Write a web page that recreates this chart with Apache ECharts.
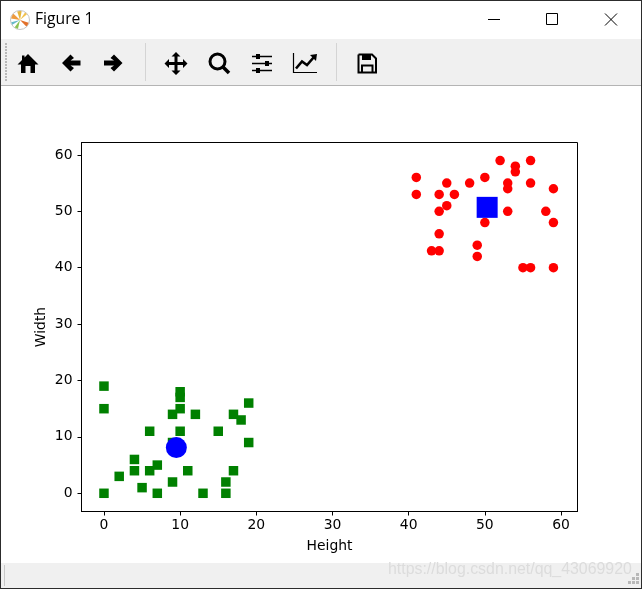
<!DOCTYPE html>
<html>
<head>
<meta charset="utf-8">
<title>Figure 1</title>
<style>
  html, body { margin: 0; padding: 0; background: #fff; }
  #main { width: 642px; height: 589px; }
</style>
<script src="https://cdn.jsdelivr.net/npm/echarts@6/dist/echarts.min.js"></script>
</head>
<body>
<div id="main"></div>
<script>
// values
var redPoints = [
  [41, 56], [41, 53], [44, 53], [45, 55], [46, 53], [48, 55], [50, 56], [52, 59],
  [54, 58], [54, 57], [56, 59], [53, 55], [53, 54], [56, 55], [59, 54], [45, 51],
  [44, 50], [53, 50], [58, 50], [50, 48], [59, 48], [44, 46], [43, 43], [44, 43],
  [49, 44], [49, 42], [55, 40], [56, 40], [59, 40]
];
var greenPoints = [
  [0, 19], [0, 15], [10, 18], [10, 17], [10, 15], [9, 14], [12, 14], [19, 16],
  [17, 14], [18, 13], [6, 11], [10, 11], [15, 11], [19, 9], [9, 9], [4, 6],
  [4, 4], [6, 4], [7, 5], [11, 4], [17, 4], [2, 3], [5, 1], [9, 2], [16, 2],
  [0, 0], [7, 0], [13, 0], [16, 0]
];
var blueSquare = [[50.3, 50.7]];
var blueCircle = [[9.5, 8.1]];
var xTicks = [0, 10, 20, 30, 40, 50, 60];
var yTicks = [0, 10, 20, 30, 40, 50, 60];

var chart = echarts.init(document.getElementById('main'));

function valueAxis(name, ticks, min, max, gap, labelMargin) {
  return {
    type: 'value',
    name: name,
    nameLocation: 'middle',
    nameGap: gap,
    nameMoveOverlap: false,
    nameTextStyle: { color: '#000', fontSize: 13.9, fontFamily: 'DejaVu Sans' },
    min: min,
    max: max,
    splitLine: { show: false },
    axisLine: { show: true, onZero: false, lineStyle: { color: '#000', width: 1 } },
    axisTick: { show: true, length: 4, customValues: ticks, lineStyle: { color: '#000', width: 1 } },
    axisLabel: { customValues: ticks, color: '#000', fontSize: 13.9, fontFamily: 'DejaVu Sans', margin: labelMargin }
  };
}

function scatter(data, symbol, size, color) {
  return {
    type: 'scatter',
    data: data,
    symbol: symbol,
    symbolSize: size,
    itemStyle: { color: color, opacity: 1 },
    silent: true
  };
}

// window frame and toolbar around the plot
function rect(x, y, w, h, fill) {
  return { type: 'rect', silent: true, shape: { x: x, y: y, width: w, height: h }, style: { fill: fill } };
}
function solid(points) {
  return { type: 'polygon', silent: true, shape: { points: points }, style: { fill: '#000' } };
}
function stroke(points, width) {
  return { type: 'polyline', silent: true, shape: { points: points }, style: { fill: 'none', stroke: '#000', lineWidth: width } };
}
function wedge(a, b, col) {
  return { type: 'sector', silent: true, shape: { cx: 20, cy: 20, r: 9, r0: 0, startAngle: a, endAngle: b }, style: { fill: col } };
}

var chrome = [
  rect(0, 39, 642, 46, '#f0f0f0'),
  rect(0, 85, 642, 1, '#b4b4b4'),
  rect(0, 563, 642, 25, '#f0f0f0'),
  rect(4, 565, 1, 21, '#c8c8c8'),
  rect(145, 43, 1, 38, '#d4d4d4'),
  rect(336, 43, 1, 38, '#d4d4d4'),
  // logo
  { type: 'circle', silent: true, shape: { cx: 20, cy: 20, r: 9.5 }, style: { fill: '#fff', stroke: '#c4c4c4', lineWidth: 1 } },
  wedge(3.3, 3.9, '#ee9a3e'),
  wedge(4.4, 4.9, '#e3b53d'),
  wedge(5.3, 5.6, '#f2c14e'),
  wedge(0.3, 0.8, '#e2702a'),
  wedge(1.8, 2.2, '#8cc152'),
  wedge(2.6, 2.9, '#66b8c9'),
  { type: 'text', silent: true, style: { x: 35, y: 20, text: 'Figure 1', fill: '#000', font: '15.7px "Open Sans"', textVerticalAlign: 'middle' } },
  // window buttons
  rect(488, 19, 12, 1, '#000'),
  { type: 'rect', silent: true, shape: { x: 546.5, y: 13.5, width: 11, height: 11 }, style: { fill: 'none', stroke: '#000', lineWidth: 1 } },
  stroke([[605, 13.5], [617, 25.5]], 1),
  stroke([[617, 13.5], [605, 25.5]], 1),
  // home
  solid([[28, 54], [38.5, 64.5], [35, 64.5], [35, 73], [30.5, 73], [30.5, 66], [25.5, 66], [25.5, 73], [21, 73], [21, 64.5], [17.5, 64.5], [22, 60], [22, 55.5], [24.5, 55.5], [24.5, 57.5]]),
  // back
  solid([[62, 63], [70.5, 54.5], [74, 58], [70.5, 60.5], [80.5, 60.5], [80.5, 65.5], [70.5, 65.5], [74, 68], [70.5, 71.5]]),
  // forward
  solid([[122.5, 63], [114, 54.5], [110.5, 58], [114, 60.5], [104, 60.5], [104, 65.5], [114, 65.5], [110.5, 68], [114, 71.5]]),
  // move
  solid([[176, 52], [180.5, 56.5], [177.5, 56.5], [177.5, 62], [183, 62], [183, 59], [187.5, 63.5], [183, 68], [183, 65], [177.5, 65], [177.5, 70.5], [180.5, 70.5], [176, 75], [171.5, 70.5], [174.5, 70.5], [174.5, 65], [169, 65], [169, 68], [164.5, 63.5], [169, 59], [169, 62], [174.5, 62], [174.5, 56.5], [171.5, 56.5]]),
  // zoom
  { type: 'circle', silent: true, shape: { cx: 217.5, cy: 61.5, r: 7.5 }, style: { fill: 'none', stroke: '#000', lineWidth: 3 } },
  stroke([[223, 67], [229, 73]], 3.5),
  // sliders
  stroke([[252, 56.5], [272, 56.5]], 1.5),
  stroke([[252, 63.5], [272, 63.5]], 1.5),
  stroke([[252, 70.5], [272, 70.5]], 1.5),
  rect(256, 54, 4, 5, '#000'),
  rect(265, 61, 4, 5, '#000'),
  rect(256, 68, 4, 5, '#000'),
  // line chart
  stroke([[293.5, 53], [293.5, 72.5], [317, 72.5]], 1.2),
  stroke([[296, 68.5], [302, 61.5], [307, 65], [314, 57]], 2.6),
  solid([[310, 55], [317, 54], [316, 61]]),
  // save
  stroke([[358.5, 54.5], [372, 54.5], [376, 58.5], [376, 72.5], [358.5, 72.5], [358.5, 54.5]], 2),
  rect(362, 54, 9, 6, '#000'),
  stroke([[362, 72], [362, 65.5], [372.5, 65.5], [372.5, 72]], 2),
  // watermark
  { type: 'text', silent: true, style: { x: 388, y: 570, text: 'https://blog.csdn.net/qq_43069920', fill: '#dcdcdc', font: '15.9px "Liberation Sans"', textVerticalAlign: 'middle' } },
  // size grip
  rect(636, 573, 3, 3, '#b8b8b8'),
  rect(632, 577, 3, 3, '#b8b8b8'),
  rect(636, 577, 3, 3, '#b8b8b8'),
  rect(628, 581, 3, 3, '#b8b8b8'),
  rect(632, 581, 3, 3, '#b8b8b8'),
  rect(636, 581, 3, 3, '#b8b8b8'),
  // frame
  rect(0, 0, 642, 1, '#2c2c2c'),
  rect(0, 0, 1, 589, '#2c2c2c'),
  rect(641, 0, 1, 589, '#2c2c2c'),
  rect(0, 588, 642, 1, '#2c2c2c')
];
// toolbar gripper dots
for (var gy = 43; gy < 81; gy += 3) {
  chrome.push(rect(5, gy, 2, 2, '#b8b8b8'));
}

var option = {
  animation: false,
  backgroundColor: '#fff',
  grid: {
    left: 81.5, top: 142.5, width: 496, height: 369,
    show: true, borderColor: '#000', borderWidth: 1, backgroundColor: '#fff'
  },
  xAxis: valueAxis('Height', xTicks, -2.95, 62.16, 28, 7),
  yAxis: valueAxis('Width', yTicks, -3.23, 62.2, 33, 9),
  series: [
    scatter(greenPoints, 'rect', 9.5, '#008000'),
    scatter(redPoints, 'circle', 9.5, '#ff0000'),
    scatter(blueSquare, 'rect', 21, '#0000ff'),
    scatter(blueCircle, 'circle', 21, '#0000ff')
  ],
  graphic: chrome
};
chart.setOption(option);
</script>
</body>
</html>
